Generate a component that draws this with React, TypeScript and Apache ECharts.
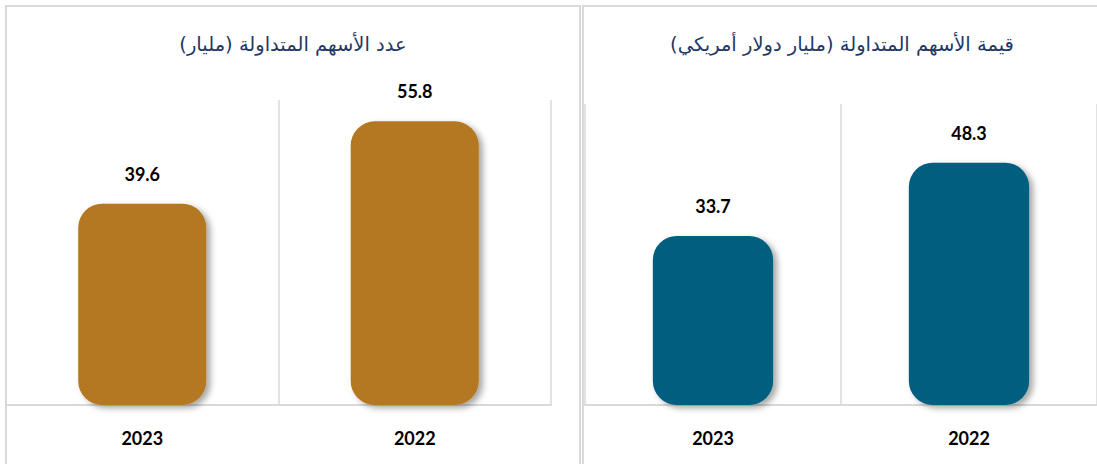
import React, { useEffect, useRef } from "react";
import * as echarts from "echarts";

const categories = ["2023", "2022"];
const sharesCount = [39.6, 55.8];
const sharesValue = [33.7, 48.3];
const titleCount = "عدد الأسهم المتداولة (مليار)";
const titleValue = "قيمة الأسهم المتداولة (مليار دولار أمريكي)";

const GOLD = "#B47820";
const TEAL = "#005F7F";
const GRID_C = "#d9d9d9";

function makeXAxis(gridIndex: number) {
  return {
    type: "category",
    gridIndex,
    data: categories,
    axisLine: { show: true, lineStyle: { color: GRID_C, width: 2 } },
    axisTick: { show: false },
    splitLine: { show: true, lineStyle: { color: GRID_C, width: 1.5 } },
    axisLabel: {
      margin: 24,
      color: "#000",
      fontWeight: "bold",
      fontSize: 18,
      fontFamily: "Lato, 'Liberation Sans', sans-serif",
    },
  };
}

function makeYAxis(gridIndex: number) {
  return {
    type: "value",
    gridIndex,
    min: 0,
    max: 60,
    show: false,
    splitLine: { show: false },
  };
}

function makeSeries(idx: number, data: number[], color: string) {
  return {
    type: "bar",
    xAxisIndex: idx,
    yAxisIndex: idx,
    data,
    barWidth: "47%",
    itemStyle: {
      color,
      borderRadius: 24,
      shadowColor: "rgba(0,0,0,0.35)",
      shadowBlur: 6,
      shadowOffsetX: 4,
      shadowOffsetY: 3,
    },
    label: {
      show: true,
      position: "top",
      distance: 21,
      color: "#000",
      fontWeight: "bold",
      fontSize: 18,
      fontFamily: "Lato, 'Liberation Sans', sans-serif",
    },
  };
}

export default function App() {
  const ref = useRef<HTMLDivElement>(null);
  useEffect(() => {
    if (!ref.current) return;
    const chart = echarts.init(ref.current, null, { renderer: "svg" });
    const titleFont = "19.5px 'DejaVu Sans', sans-serif";
    chart.setOption({
      animation: false,
      backgroundColor: "#fff",
      grid: [
        { left: 6, top: 100, width: 545, height: 305 },
        { left: 585, top: 104, width: 516, height: 301 },
      ],
      xAxis: [makeXAxis(0), makeXAxis(1)],
      yAxis: [makeYAxis(0), makeYAxis(1)],
      series: [makeSeries(0, sharesCount, GOLD), makeSeries(1, sharesValue, TEAL)],
      graphic: [
        {
          type: "rect",
          z: -1,
          shape: { x: 6, y: 6, width: 574, height: 480 },
          style: { fill: "none", stroke: GRID_C, lineWidth: 2 },
        },
        {
          type: "rect",
          z: -1,
          shape: { x: 583, y: 6, width: 530, height: 480 },
          style: { fill: "none", stroke: GRID_C, lineWidth: 2 },
        },
        {
          type: "text",
          x: 293,
          y: 44,
          style: {
            text: titleCount + "\u200F",
            font: titleFont,
            fill: "#1F3864",
            align: "center",
            verticalAlign: "middle",
          },
        },
        {
          type: "text",
          x: 842,
          y: 44,
          style: {
            text: titleValue + "\u200F",
            font: titleFont,
            fill: "#1F3864",
            align: "center",
            verticalAlign: "middle",
          },
        },
      ],
    });
    return () => chart.dispose();
  }, []);
  return (
    <div
      ref={ref}
      style={{ position: "fixed", left: 0, top: 0, width: 1097, height: 464 }}
    />
  );
}
